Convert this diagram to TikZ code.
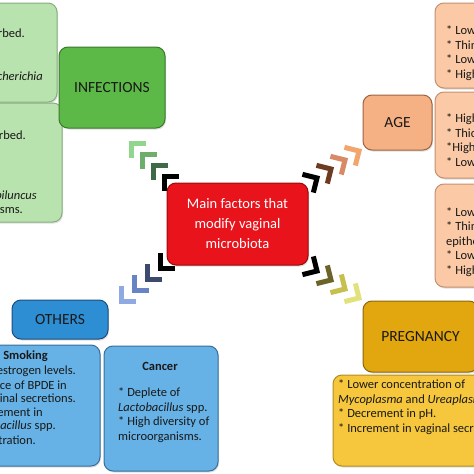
\documentclass[tikz,border=0pt]{standalone}
\usepackage{fontspec}
\setmainfont{Carlito}
\usetikzlibrary{shadows}

\definecolor{infdark}{HTML}{5DB947}
\definecolor{infdraw}{HTML}{3B7A2C}
\definecolor{inflight}{HTML}{B9E3AE}
\definecolor{infldraw}{HTML}{86AE7E}
\definecolor{agedark}{HTML}{F5B083}
\definecolor{agedraw}{HTML}{9C6440}
\definecolor{agelight}{HTML}{FBC9A6}
\definecolor{ageldraw}{HTML}{C49070}
\definecolor{othdark}{HTML}{2E8ED4}
\definecolor{othdraw}{HTML}{1D4E7C}
\definecolor{othlight}{HTML}{66B2E6}
\definecolor{othldraw}{HTML}{3A6E9A}
\definecolor{pregdark}{HTML}{E2A60F}
\definecolor{pregdraw}{HTML}{8A6A08}
\definecolor{preglight}{HTML}{F6C63C}
\definecolor{pregldraw}{HTML}{B38C1E}
\definecolor{mainred}{HTML}{E8131B}
\definecolor{maindraw}{HTML}{9A0B0B}
% chevron colours
\definecolor{chinfa}{HTML}{92D58C}
\definecolor{chinfb}{HTML}{6DAE6B}
\definecolor{chinfc}{HTML}{3E6A47}
\definecolor{chotha}{HTML}{8FAAE2}
\definecolor{chothb}{HTML}{6884C2}
\definecolor{chothc}{HTML}{3C4A6C}
\definecolor{chagea}{HTML}{F3A56E}
\definecolor{chageb}{HTML}{D88A66}
\definecolor{chagec}{HTML}{6C3B22}
\definecolor{chprega}{HTML}{E2E27C}
\definecolor{chpregb}{HTML}{C6C04E}
\definecolor{chpregc}{HTML}{6B6328}

\tikzset{
  box/.style={draw, rounded corners=9pt, line width=1pt, inner sep=0pt,
    drop shadow={opacity=0.25, shadow xshift=1pt, shadow yshift=-1.5pt}},
  topic/.style={box, font=\fontsize{15.5}{18}\selectfont, text=black!90},
  body/.style={font=\fontsize{12.5}{14.5}\selectfont, text=black!90, inner sep=0pt},
  chev/.style={line width=5pt},
}

\begin{document}
\begin{tikzpicture}[x=1pt, y=-1pt]
  \useasboundingbox (0,0) rectangle (474,474);
  \clip (0,0) rectangle (474,474);

  % centre
  \node[box, fill=mainred, draw=maindraw, minimum width=141, minimum height=82,
        align=center, text=white, font=\fontsize{14.5}{20}\selectfont] (main) at (237.5,224)
        {Main factors that\\modify vaginal\\microbiota};

  % infections
  \node[box, fill=inflight, draw=infldraw, minimum width=69, minimum height=99] (inf1) at (22.5,52.5) {};
  \node[box, fill=inflight, draw=infldraw, minimum width=74, minimum height=119] (inf2) at (25,162.5) {};
  \node[topic, fill=infdark, draw=infdraw, minimum width=106, minimum height=81] (inf) at (112,87.5) {INFECTIONS};
  \node[body, anchor=east] (inf1a) at (25,33) {disturbed.};
  \node[body, anchor=east] (inf1b) at (43,76) {\textit{Escherichia}};
  \node[body, anchor=east] (inf2a) at (26,135) {disturbed.};
  \node[body, anchor=east] (inf2b) at (37,195) {\textit{Mobiluncus}};
  \node[body, anchor=east] (inf2c) at (23,210) {microorganisms.};

  % age
  \node[box, fill=agelight, draw=ageldraw, minimum width=65, minimum height=85] (age1) at (467.5,45.5) {};
  \node[box, fill=agelight, draw=ageldraw, minimum width=65, minimum height=86] (age2) at (467.5,135) {};
  \node[box, fill=agelight, draw=ageldraw, minimum width=65, minimum height=103] (age3) at (467.5,235.5) {};
  \node[topic, fill=agedark, draw=agedraw, minimum width=69, minimum height=55] (age) at (397.5,122.5) {AGE};
  \node[body, anchor=west, align=left] (age1t) at (446,53)
    {* Low estrogen levels.\\* Thin epithelium.\\* Low glycogen.\\* High pH.};
  \node[body, anchor=west, align=left] (age2t) at (446,141)
    {* High estrogen levels.\\* Thick epithelium.\\*High glycogen.\\* Low pH.};
  \node[body, anchor=west, align=left] (age3t) at (446,242)
    {* Low estrogen levels.\\* Thin vaginal\\epithelium.\\* Low glycogen.\\* High pH.};

  % others
  \node[box, fill=othlight, draw=othldraw, minimum width=112, minimum height=121] (smoke) at (44,405.5) {};
  \node[box, fill=othlight, draw=othldraw, minimum width=114, minimum height=125] (cancer) at (161,408.5) {};
  \node[topic, fill=othdark, draw=othdraw, minimum width=96, minimum height=39] (oth) at (60,319.5) {OTHERS};
  \node[body, anchor=east] (smoke0) at (48,356) {\textbf{Smoking}};
  \node[body, anchor=east] (smoke1) at (76,371) {* Low estrogen levels.};
  \node[body, anchor=east] (smoke2) at (67,385) {* Presence of BPDE in};
  \node[body, anchor=east] (smoke3) at (76,399) {vaginal secretions.};
  \node[body, anchor=east] (smoke4) at (43,412) {* Decrement in};
  \node[body, anchor=east] (smoke5) at (56,426) {\textit{Lactobacillus} spp.};
  \node[body, anchor=east] (smoke6) at (36,440) {concentration.};
  \node[body] (cancer0) at (160,366) {\textbf{Cancer}};
  \node[body, anchor=west, align=left] (cancer1) at (118,415)
    {* Deplete of\\\textit{Lactobacillus} spp.\\* High diversity of\\microorganisms.};

  % pregnancy
  \node[box, fill=preglight, draw=pregldraw, minimum width=157, minimum height=91] (preg1) at (411.5,420.5) {};
  \node[topic, fill=pregdark, draw=pregdraw, minimum width=115, minimum height=71] (preg) at (420.5,336.5) {PREGNANCY};
  \node[body, anchor=west, align=left] (preg1t) at (338,407)
    {* Lower concentration of\\\textit{Mycoplasma} and \textit{Ureaplasma}\\* Decrement in pH.\\* Increment in vaginal secretions.};

  % chevrons
  \foreach \x/\y/\d/\c in {131/143/135/chinfa, 142/154/135/chinfb, 153/165/135/chinfc, 164/176/135/black,
      121/301/225/chotha, 134/290/225/chothb, 147/279/225/chothc, 160/268/225/black,
      359/151/31/chagea, 345/160/31/chageb, 331/169/31/chagec, 317/178/31/black,
      359/298/-31/chprega, 345/289/-31/chpregb, 331/280/-31/chpregc, 317/271/-31/black}
    \draw[chev, \c] (\x,\y) ++({-(\d+135)}:15) -- (\x,\y) -- ++({-(\d-135)}:15);
\end{tikzpicture}
\end{document}
